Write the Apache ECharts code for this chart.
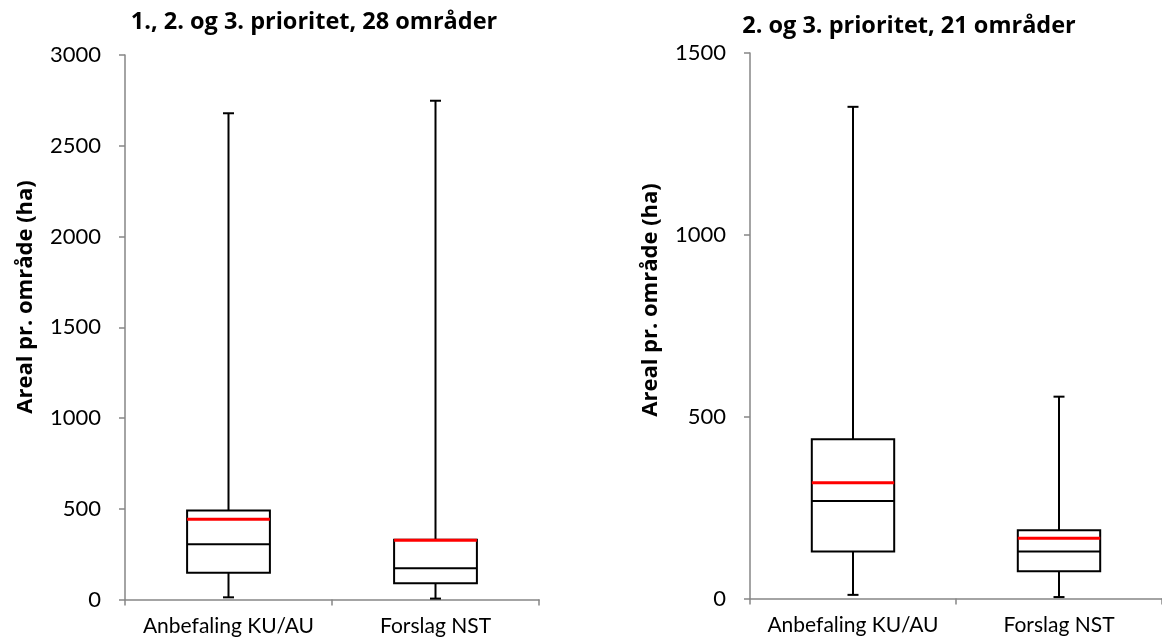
<!DOCTYPE html>
<html>
<head>
<meta charset="utf-8">
<script src="https://cdn.jsdelivr.net/npm/echarts@6/dist/echarts.min.js"></script>
<style>
html,body{margin:0;padding:0;background:#fff;}
#chart{width:1162px;height:644px;}
</style>
</head>
<body>
<div id="chart"></div>
<script>
// ---- data ----
const categories = ['Anbefaling KU/AU', 'Forslag NST'];
// [min, Q1, median, Q3, max, mean]
const leftStats = [
  [12, 148, 304, 491, 2679, 442],
  [5, 89, 172, 329, 2748, 327]
];
const rightStats = [
  [10, 129, 268, 438, 1352, 318],
  [4, 75, 129, 188, 555, 166]
];
const leftTitle = '1., 2. og 3. prioritet, 28 områder';
const rightTitle = '2. og 3. prioritet, 21 områder';
const yName = 'Areal pr. område (ha)';
const leftTicks = {min: 0, max: 3000, interval: 500};
const rightTicks = {min: 0, max: 1500, interval: 500};

const FONT = 'Lato';
const BFONT = 'Open Sans';

function toData(stats) {
  return stats.map((s, i) => [i].concat(s));
}

function renderBox(params, api) {
  const x = api.value(0);
  const vMin = api.value(1), q1 = api.value(2), med = api.value(3),
        q3 = api.value(4), vMax = api.value(5), mean = api.value(6);
  const pMin = api.coord([x, vMin]);
  const pQ1 = api.coord([x, q1]);
  const pMed = api.coord([x, med]);
  const pQ3 = api.coord([x, q3]);
  const pMax = api.coord([x, vMax]);
  const pMean = api.coord([x, mean]);
  const bw = api.size([1, 0])[0] * 0.4;
  const cx = pMed[0];
  const half = bw / 2;
  const cap = 5.5;
  const black = {stroke: '#000', lineWidth: 2, fill: null};
  return {
    type: 'group',
    children: [
      {type: 'line', shape: {x1: cx, y1: pMax[1], x2: cx, y2: pQ3[1]}, style: black},
      {type: 'line', shape: {x1: cx - cap, y1: pMax[1], x2: cx + cap, y2: pMax[1]}, style: black},
      {type: 'line', shape: {x1: cx, y1: pQ1[1], x2: cx, y2: pMin[1]}, style: black},
      {type: 'line', shape: {x1: cx - cap, y1: pMin[1], x2: cx + cap, y2: pMin[1]}, style: black},
      {type: 'rect', shape: {x: cx - half, y: pQ3[1], width: bw, height: pQ1[1] - pQ3[1]},
        style: {stroke: '#000', lineWidth: 2, fill: '#fff'}},
      {type: 'line', shape: {x1: cx - half, y1: pMed[1], x2: cx + half, y2: pMed[1]}, style: black},
      {type: 'line', shape: {x1: cx - half, y1: pMean[1], x2: cx + half, y2: pMean[1]},
        style: {stroke: '#ff0000', lineWidth: 3, fill: null}}
    ]
  };
}

const axisGray = '#868686';

function xAxisCfg(gridIndex) {
  return {
    type: 'category',
    gridIndex: gridIndex,
    data: categories,
    boundaryGap: true,
    axisLine: {show: true, lineStyle: {color: axisGray, width: 1.5}},
    axisTick: {show: true, alignWithLabel: false, interval: 0, length: 6, lineStyle: {color: axisGray, width: 1.5}},
    axisLabel: {color: '#000', fontFamily: FONT, fontSize: 21, margin: 16, interval: 0, hideOverlap: false},
    splitLine: {show: false}
  };
}
function yAxisCfg(gridIndex, t) {
  return {
    type: 'value',
    gridIndex: gridIndex,
    min: t.min, max: t.max, interval: t.interval,
    axisLine: {show: true, lineStyle: {color: axisGray, width: 1.5}},
    axisTick: {show: true, inside: false, length: 6, lineStyle: {color: axisGray, width: 1.5}},
    axisLabel: {color: '#000', fontFamily: FONT, fontSize: 22, margin: 24,
      formatter: v => String(v)},
    splitLine: {show: false}
  };
}

const chart = echarts.init(document.getElementById('chart'), null, {renderer: 'canvas'});
chart.setOption({
  animation: false,
  backgroundColor: '#fff',
  title: [
    {text: leftTitle, left: 309, top: 5, textAlign: 'center',
      textStyle: {fontFamily: BFONT, fontWeight: 'bold', fontSize: 23.5, color: '#000'}},
    {text: rightTitle, left: 904, top: 9, textAlign: 'center',
      textStyle: {fontFamily: BFONT, fontWeight: 'bold', fontSize: 23.5, color: '#000'}}
  ],
  grid: [
    {left: 125, top: 55, width: 414, height: 544.5},
    {left: 750, top: 53, width: 414, height: 545.5}
  ],
  xAxis: [xAxisCfg(0), xAxisCfg(1)],
  yAxis: [yAxisCfg(0, leftTicks), yAxisCfg(1, rightTicks)],
  graphic: [
    {type: 'text', x: 26, y: 297, rotation: Math.PI / 2,
      style: {text: yName, fontFamily: BFONT, fontWeight: 'bold', fontSize: 22, fill: '#000',
        textAlign: 'center', textVerticalAlign: 'middle'}},
    {type: 'text', x: 651, y: 300, rotation: Math.PI / 2,
      style: {text: yName, fontFamily: BFONT, fontWeight: 'bold', fontSize: 22, fill: '#000',
        textAlign: 'center', textVerticalAlign: 'middle'}}
  ],
  series: [
    {type: 'custom', xAxisIndex: 0, yAxisIndex: 0, renderItem: renderBox,
      encode: {x: 0, y: [1, 2, 3, 4, 5, 6]}, data: toData(leftStats)},
    {type: 'custom', xAxisIndex: 1, yAxisIndex: 1, renderItem: renderBox,
      encode: {x: 0, y: [1, 2, 3, 4, 5, 6]}, data: toData(rightStats)}
  ]
});
</script>
</body>
</html>
